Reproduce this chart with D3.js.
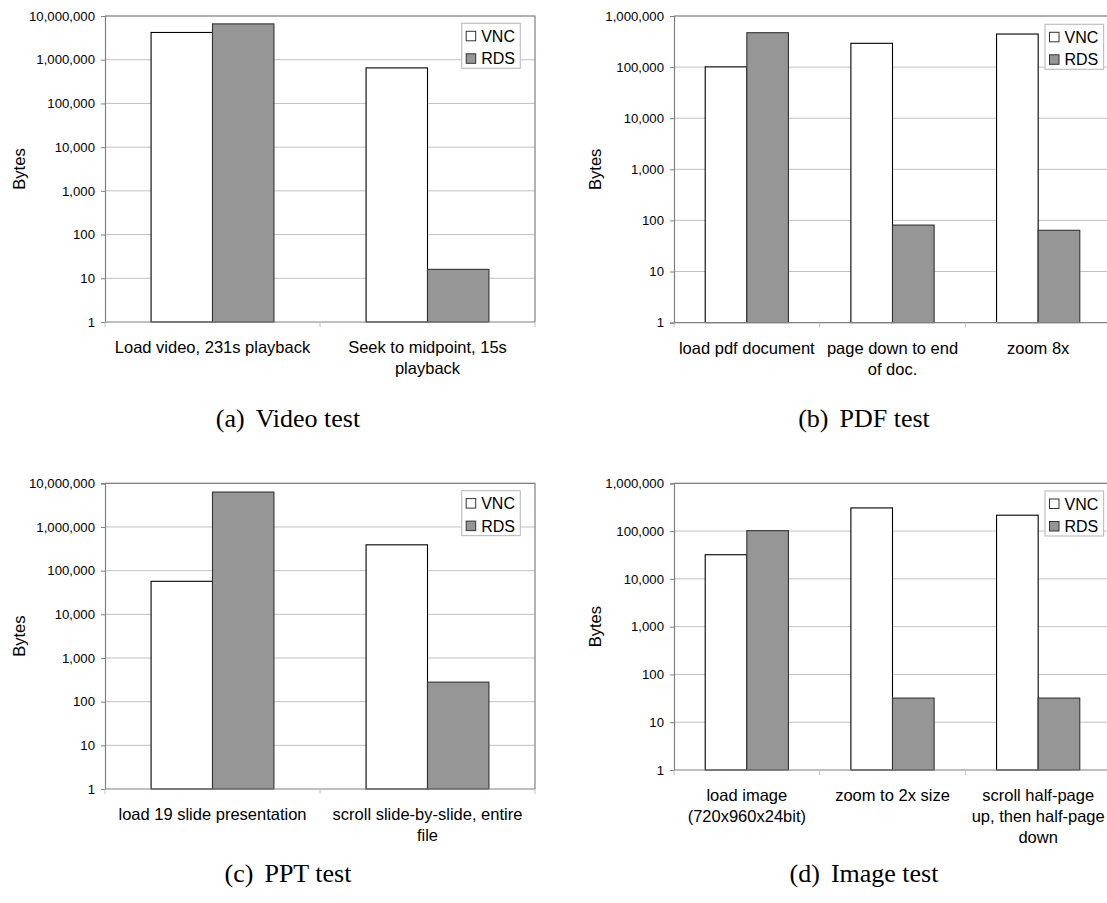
<!DOCTYPE html>
<html>
<head>
<meta charset="utf-8">
<script src="https://cdn.jsdelivr.net/npm/d3@7"></script>
<style>
    body { margin: 0; background: #fff; }
    svg { display: block; }
    text { font-family: "Liberation Sans", Arial, sans-serif; fill: #000; }
    .caption { font-family: "Liberation Serif", "Times New Roman", serif; font-size: 26px; }
</style>
</head>
<body>
<div id="vis"></div>
<script>
// series names
let seriesNames = ['VNC', 'RDS'];

// (a) Video test
let videoCats = ['Load video, 231s playback', 'Seek to midpoint, 15s\nplayback'];
let videoVNC = [4200000, 650000];
let videoRDS = [6600000, 16];

// (b) PDF test
let pdfCats = ['load pdf document', 'page down to end\nof doc.', 'zoom 8x'];
let pdfVNC = [101000, 292000, 444000];
let pdfRDS = [471000, 81, 64];

// (c) PPT test
let pptCats = ['load 19 slide presentation', 'scroll slide-by-slide, entire\nfile'];
let pptVNC = [57000, 390000];
let pptRDS = [6300000, 280];

// (d) Image test
let imgCats = ['load image\n(720x960x24bit)', 'zoom to 2x size', 'scroll half-page\nup, then half-page\ndown'];
let imgVNC = [32000, 305000, 215000];
let imgRDS = [102000, 32, 32];

// tick values
let ticks7 = [1, 10, 100, 1000, 10000, 100000, 1000000, 10000000];
let ticks6 = [1, 10, 100, 1000, 10000, 100000, 1000000];

let captions = ['(a)', '(b)', '(c)', '(d)'];
let captionTitles = ['Video test', 'PDF test', 'PPT test', 'Image test'];

let width = 1107,
    height = 903;

let svg = d3.select('#vis')
    .append('svg')
    .attr('width', width)
    .attr('height', height);

let fills = {VNC: '#ffffff', RDS: '#969696'};
let strokes = {VNC: '#000000', RDS: '#333333'};

function drawPanel(p) {
    let g = svg.append('g');

    let rows = p.cats.map((c, i) => ({cat: c, VNC: p.vnc[i], RDS: p.rds[i]}));

    let x = d3.scaleBand()
        .domain(p.cats)
        .range([p.left, p.right])
        .paddingInner(1.5 / 3.5)
        .paddingOuter(0.75 / 3.5);

    let xSub = d3.scaleBand()
        .domain(seriesNames)
        .range([0, x.bandwidth()]);

    let y = d3.scaleLog()
        .domain([1, d3.max(p.ticks)])
        .range([p.bottom, p.top]);

    // gridlines
    g.append('g')
        .selectAll('line')
        .data(p.ticks.slice(1))
        .enter()
        .append('line')
        .attr('x1', p.left)
        .attr('x2', p.right)
        .attr('y1', d => y(d))
        .attr('y2', d => y(d))
        .attr('stroke', '#c0c0c0')
        .attr('stroke-width', 1);

    // plot border (top, right)
    g.append('path')
        .attr('d', 'M' + p.left + ',' + p.top + 'H' + p.right + 'V' + p.bottom)
        .attr('fill', 'none')
        .attr('stroke', '#808080')
        .attr('stroke-width', 1.2);

    // bars
    let groups = g.selectAll('g.cat')
        .data(rows)
        .enter()
        .append('g')
        .attr('class', 'cat')
        .attr('transform', d => 'translate(' + x(d.cat) + ',0)');

    groups.selectAll('rect')
        .data(d => seriesNames.map(k => ({key: k, value: d[k]})))
        .enter()
        .append('rect')
        .attr('x', d => xSub(d.key))
        .attr('y', d => y(d.value))
        .attr('width', xSub.bandwidth())
        .attr('height', d => p.bottom - y(d.value))
        .attr('fill', d => fills[d.key])
        .attr('stroke', d => strokes[d.key])
        .attr('stroke-width', 1.1);

    // y axis
    let yAxis = d3.axisLeft(y)
        .tickValues(p.ticks)
        .tickFormat(d3.format(','))
        .tickSize(4)
        .tickPadding(6);

    let ya = g.append('g')
        .attr('transform', 'translate(' + p.left + ',0)')
        .call(yAxis);
    ya.select('.domain').attr('stroke', '#808080').attr('stroke-width', 1.2);
    ya.selectAll('.tick line').attr('stroke', '#808080');
    ya.selectAll('.tick text')
        .attr('font-size', 13.2)
        .attr('font-family', '"Liberation Sans", Arial, sans-serif')
        .attr('fill', '#000');

    // x axis line and boundary ticks
    g.append('line')
        .attr('x1', p.left)
        .attr('x2', p.right)
        .attr('y1', p.bottom)
        .attr('y2', p.bottom)
        .attr('stroke', '#808080')
        .attr('stroke-width', 1.2);

    let step = x.step();
    let bounds = d3.range(p.cats.length + 1).map(i => p.left + i * step);
    g.append('g')
        .selectAll('line')
        .data(bounds)
        .enter()
        .append('line')
        .attr('x1', d => d)
        .attr('x2', d => d)
        .attr('y1', p.bottom)
        .attr('y2', p.bottom + 5)
        .attr('stroke', '#c0c0c0');

    // category labels
    let labels = g.selectAll('text.xlabel')
        .data(p.cats)
        .enter()
        .append('text')
        .attr('class', 'xlabel')
        .attr('text-anchor', 'middle')
        .attr('font-size', 16.5)
        .attr('x', d => x(d) + x.bandwidth() / 2)
        .attr('y', p.bottom + 31);

    labels.selectAll('tspan')
        .data(d => d.split('\n'))
        .enter()
        .append('tspan')
        .attr('x', function() { return this.parentNode.getAttribute('x'); })
        .attr('dy', (d, i) => i === 0 ? 0 : 21)
        .text(d => d);

    // y axis title
    g.append('text')
        .attr('transform', 'translate(' + p.titleX + ',' + ((p.top + p.bottom) / 2) + ') rotate(-90)')
        .attr('text-anchor', 'middle')
        .attr('font-size', 16.5)
        .text('Bytes');

    // legend
    let lg = g.append('g')
        .attr('transform', 'translate(' + p.legendX + ',' + p.legendY + ')');
    lg.append('rect')
        .attr('width', 58.6)
        .attr('height', 45)
        .attr('fill', '#fff')
        .attr('stroke', '#c0c0c0')
        .attr('stroke-width', 1.2);
    let items = lg.selectAll('g.item')
        .data(seriesNames)
        .enter()
        .append('g')
        .attr('class', 'item')
        .attr('transform', (d, i) => 'translate(0,' + (i * 22.5) + ')');
    items.append('rect')
        .attr('x', 4.5)
        .attr('y', 8)
        .attr('width', 9.5)
        .attr('height', 9.5)
        .attr('fill', d => fills[d])
        .attr('stroke', '#333')
        .attr('stroke-width', 1);
    items.append('text')
        .attr('x', 19.5)
        .attr('y', 18.5)
        .attr('font-size', 16)
        .text(d => d);

    // caption
    let cap = svg.append('text')
        .attr('class', 'caption')
        .attr('text-anchor', 'middle')
        .attr('x', p.capX)
        .attr('y', p.capY);
    cap.append('tspan').text(p.caption);
    cap.append('tspan').attr('dx', 11).text(p.title);
}

drawPanel({cats: videoCats, vnc: videoVNC, rds: videoRDS, ticks: ticks7,
    left: 105, right: 535, top: 16, bottom: 322, titleX: 24.5,
    legendX: 461.7, legendY: 23.3, capX: 288, capY: 427,
    caption: captions[0], title: captionTitles[0]});

drawPanel({cats: pdfCats, vnc: pdfVNC, rds: pdfRDS, ticks: ticks6,
    left: 674, right: 1111, top: 16, bottom: 322.6, titleX: 601,
    legendX: 1045, legendY: 24.3, capX: 864, capY: 427,
    caption: captions[1], title: captionTitles[1]});

drawPanel({cats: pptCats, vnc: pptVNC, rds: pptRDS, ticks: ticks7,
    left: 105, right: 535, top: 483.3, bottom: 789, titleX: 24.5,
    legendX: 461.7, legendY: 490.6, capX: 288, capY: 882,
    caption: captions[2], title: captionTitles[2]});

drawPanel({cats: imgCats, vnc: imgVNC, rds: imgRDS, ticks: ticks6,
    left: 674, right: 1111, top: 483.3, bottom: 770, titleX: 601,
    legendX: 1045, legendY: 491, capX: 864, capY: 882,
    caption: captions[3], title: captionTitles[3]});
</script>
</body>
</html>
